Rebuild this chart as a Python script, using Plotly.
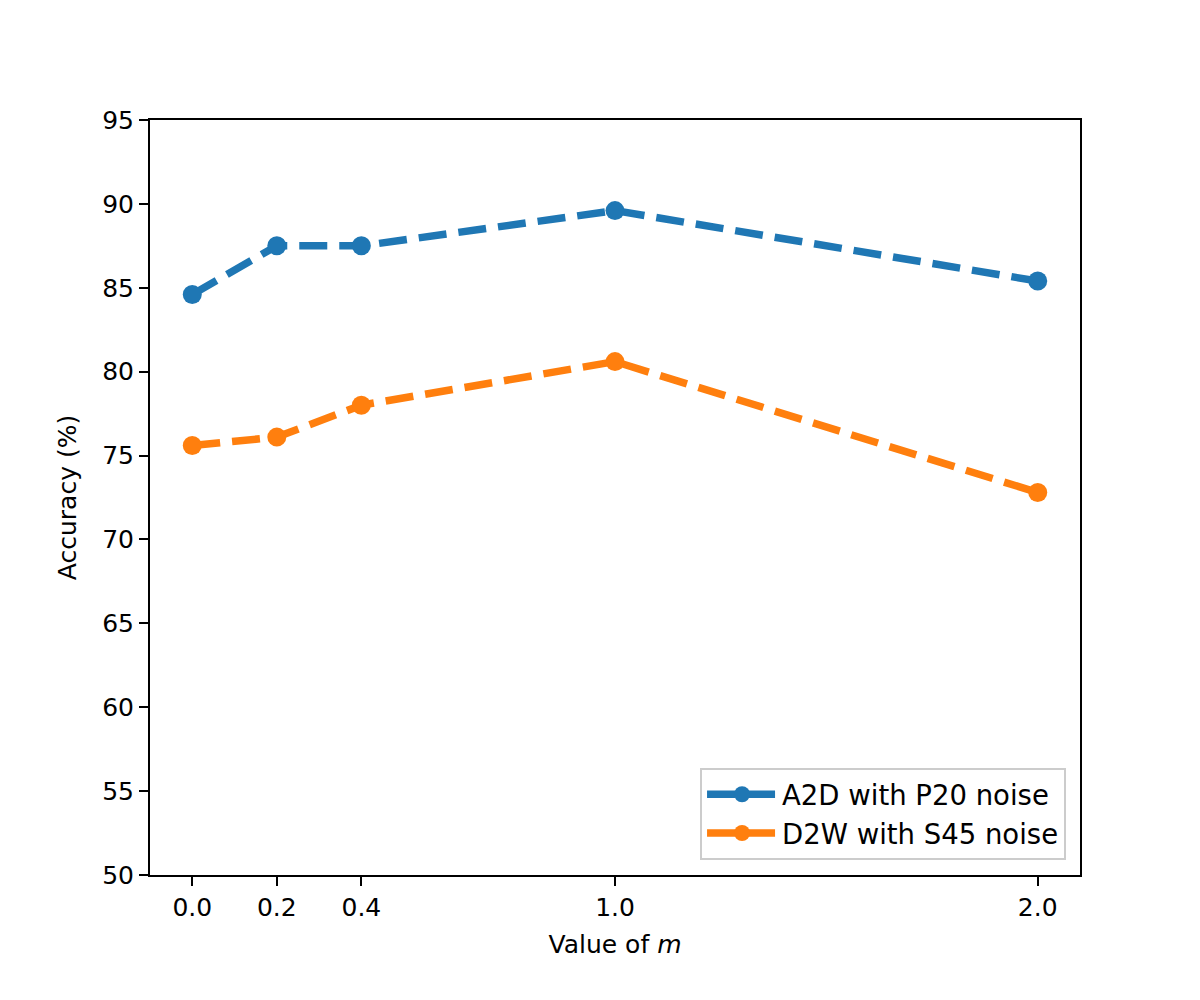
import plotly.graph_objects as go

m_values = [0.0, 0.2, 0.4, 1.0, 2.0]
a2d_p20 = [84.6, 87.5, 87.5, 89.6, 85.4]
d2w_s45 = [75.6, 76.1, 78.0, 80.6, 72.8]
x_ticks = [0.0, 0.2, 0.4, 1.0, 2.0]
x_tick_labels = ["0.0", "0.2", "0.4", "1.0", "2.0"]
y_ticks = [50, 55, 60, 65, 70, 75, 80, 85, 90, 95]

font = "DejaVu Sans"
fig = go.Figure()
fig.add_trace(go.Scatter(x=m_values, y=a2d_p20, mode="lines+markers", name="A2D with P20 noise",
                         line=dict(color="#1f77b4", width=7.5, dash="28px,12px"),
                         marker=dict(size=19, color="#1f77b4")))
fig.add_trace(go.Scatter(x=m_values, y=d2w_s45, mode="lines+markers", name="D2W with S45 noise",
                         line=dict(color="#ff7f0e", width=7.5, dash="28px,12px"),
                         marker=dict(size=19, color="#ff7f0e")))

axis_common = dict(showgrid=False, zeroline=False, showline=True, linecolor="black", linewidth=2,
                   mirror=True, ticks="outside", ticklen=9, tickwidth=2, tickcolor="black",
                   tickfont=dict(family=font, size=25, color="black"))
fig.update_xaxes(range=[-0.1, 2.1], tickvals=x_ticks, ticktext=x_tick_labels,
                 title=dict(text="Value of <i>m</i>", font=dict(family=font, size=25, color="black"), standoff=14),
                 **axis_common)
fig.update_yaxes(range=[50, 95], tickvals=y_ticks,
                 title=dict(text="Accuracy (%)", font=dict(family=font, size=25, color="black"), standoff=18),
                 **axis_common)
fig.update_layout(width=1200, height=1000, plot_bgcolor="white", paper_bgcolor="white",
                  margin=dict(l=142, r=128, t=112, b=133),
                  font=dict(family=font, color="black"),
                  legend=dict(x=0.985, y=0.02, xanchor="right", yanchor="bottom",
                              bordercolor="#cccccc", borderwidth=2, bgcolor="rgba(255,255,255,0.8)",
                              font=dict(family=font, size=27.5, color="black"),
                              itemwidth=70, tracegroupgap=4))
fig.write_html("out.html")
